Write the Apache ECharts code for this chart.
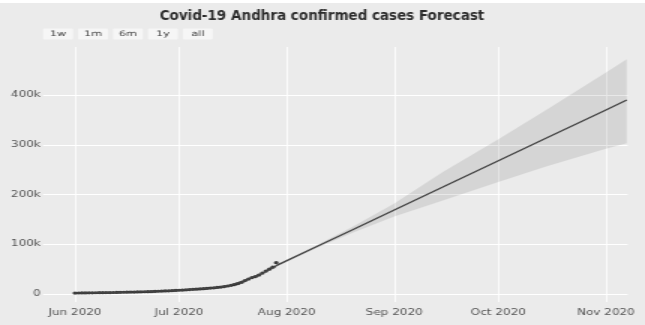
<!DOCTYPE html>
<html>
<head>
<meta charset="utf-8">
<script src="https://cdn.jsdelivr.net/npm/echarts@6/dist/echarts.min.js"></script>
<style>
  html, body { margin: 0; padding: 0; background: #ffffff; }
  #wrap { position: absolute; left: 0; top: 0; width: 645px; height: 325px; overflow: hidden; }
  /* chart is laid out narrow and widened horizontally */
  #chart { position: absolute; left: 0; top: 3px; width: 430px; height: 322px;
           transform-origin: 0 0; transform: scaleX(1.5); }
</style>
</head>
<body>
<div id="wrap"><div id="chart"></div></div>
<script>
// Observed cumulative confirmed cases, one value per day from 1 Jun 2020
const actualStart = [2020, 5, 1];
const actualValues = [
  1900, 2000, 2100, 2200, 2300, 2400, 2500, 2600, 2700, 2800,
  2900, 3000, 3200, 3300, 3500, 3600, 3800, 3900, 4100, 4300,
  4500, 4700, 4900, 5200, 5500, 5800, 6100, 6400, 6800, 7100,
  7500, 7900, 8300, 8800, 9300, 9800, 10300, 10800, 11300, 11900,
  12500, 13200, 14000, 15000, 16100, 17500, 19000, 21000, 23500, 27000,
  30000, 33000, 35000, 38000, 42000, 46000, 50000, 54000, 63000
];

// Forecast (fitted trend + future) with its uncertainty interval
const forecastDates = ['2020-06-01', '2020-06-15', '2020-07-01', '2020-07-10', '2020-07-15',
  '2020-07-20', '2020-07-25', '2020-07-29', '2020-08-10', '2020-08-20', '2020-09-01',
  '2020-09-15', '2020-10-01', '2020-10-15', '2020-11-01', '2020-11-07'];
const forecastYhat = [2000, 3400, 7500, 11800, 16500, 27000, 41500, 57000, 96600, 129000,
  169000, 215000, 268000, 314000, 370000, 390000];
const forecastLower = [1000, 2400, 6300, 10500, 15000, 25300, 39700, 55000, 93500, 123000,
  156000, 188000, 225000, 257000, 292000, 303000];
const forecastUpper = [3000, 4400, 8700, 13100, 18000, 28700, 43300, 59000, 99700, 135000,
  182000, 245000, 311000, 371000, 445000, 472000];

// Axis ticks
const xTickDates = ['2020-06-01', '2020-07-01', '2020-08-01', '2020-09-01', '2020-10-01', '2020-11-01'];
const xTickLabels = ['Jun 2020', 'Jul 2020', 'Aug 2020', 'Sep 2020', 'Oct 2020', 'Nov 2020'];
const yTickValues = [0, 100000, 200000, 300000, 400000];
const yTickLabels = ['0', '100k', '200k', '300k', '400k'];

const rangeButtons = ['1w', '1m', '6m', '1y', 'all'];
const titleText = 'Covid-19 Andhra confirmed cases Forecast';

const SX = 1.5;            // horizontal widening applied by CSS
const FONT = 'DejaVu Sans';

function ts(s) {
  const p = s.split('-').map(Number);
  return new Date(p[0], p[1] - 1, p[2]).getTime();
}

const actualData = actualValues.map((v, i) =>
  [new Date(actualStart[0], actualStart[1], actualStart[2] + i).getTime(), v]);
const fcT = forecastDates.map(ts);
const yhatData = fcT.map((t, i) => [t, forecastYhat[i]]);
const xTickTs = xTickDates.map(ts);

// title (kept at natural proportions) and range selector buttons
const graphics = [{
  type: 'text', x: 322 / SX, y: 13.5, scaleX: 1 / SX, silent: true,
  style: { text: titleText, fill: '#2b2b2b', font: 'bold 13.5px "' + FONT + '"',
           align: 'center', verticalAlign: 'middle' }
}];
rangeButtons.forEach((b, i) => {
  const x = 28.7 + i * 23.3;
  graphics.push({
    type: 'rect', x: x, y: 25.5, silent: true,
    shape: { width: 20, height: 11, r: 1 },
    style: { fill: '#f6f6f6' }
  });
  graphics.push({
    type: 'text', x: x + 10, y: 31.2, silent: true,
    style: { text: b, fill: '#444', font: '7.5px "' + FONT + '"', align: 'center', verticalAlign: 'middle' }
  });
});

const chart = echarts.init(document.getElementById('chart'), null, { renderer: 'canvas' });
chart.setOption({
  animation: false,
  backgroundColor: '#ebebeb',
  grid: { left: 28.7, right: 11.6, top: 44, bottom: 23 },
  xAxis: {
    // time values in ms, labelled at month starts
    type: 'value',
    min: new Date(2020, 4, 22, 19).getTime(),
    max: new Date(2020, 10, 7, 6).getTime(),
    axisLine: { show: false }, axisTick: { show: false }, splitLine: { show: false },
    axisLabel: {
      customValues: xTickTs,
      formatter: v => xTickLabels[xTickTs.indexOf(v)] || '',
      fontFamily: FONT, fontSize: 8, color: '#555', margin: 7, hideOverlap: false
    }
  },
  yAxis: {
    type: 'value',
    min: -16080, max: 496500,
    axisLine: { show: false }, axisTick: { show: false }, splitLine: { show: false },
    axisLabel: {
      customValues: yTickValues,
      formatter: v => yTickLabels[yTickValues.indexOf(v)] || '',
      fontFamily: FONT, fontSize: 8, color: '#555', margin: 1.5
    }
  },
  graphic: graphics,
  series: [
    {
      // white grid lines at the tick positions
      name: 'grid', type: 'line', data: [], z: 1, silent: true,
      markLine: {
        z: 1, silent: true, symbol: ['none', 'none'], label: { show: false },
        lineStyle: { color: '#ffffff', width: 1, type: 'solid', opacity: 1 },
        emphasis: { disabled: true },
        data: xTickTs.map(t => ({ xAxis: t, lineStyle: { width: 0.8 } }))
          .concat(yTickValues.map(v => ({ yAxis: v })))
      }
    },
    {
      // uncertainty interval as one filled polygon: upper edge out, lower edge back
      name: 'interval', type: 'custom', z: 2, silent: true, clip: true,
      data: [[fcT[0], forecastYhat[0]]],
      renderItem: (params, api) => {
        const pts = [];
        for (let i = 0; i < fcT.length; i++) pts.push(api.coord([fcT[i], forecastUpper[i]]));
        for (let i = fcT.length - 1; i >= 0; i--) pts.push(api.coord([fcT[i], forecastLower[i]]));
        return { type: 'polygon', shape: { points: pts }, style: { fill: 'rgba(0,0,0,0.09)' } };
      }
    },
    {
      name: 'actual', type: 'scatter', data: actualData, z: 3,
      symbolSize: 3.2, itemStyle: { color: '#111' }, silent: true
    },
    {
      name: 'forecast', type: 'line', data: yhatData, z: 4,
      symbol: 'none', lineStyle: { color: '#444', width: 1.3 }, silent: true
    }
  ]
});
</script>
</body>
</html>
